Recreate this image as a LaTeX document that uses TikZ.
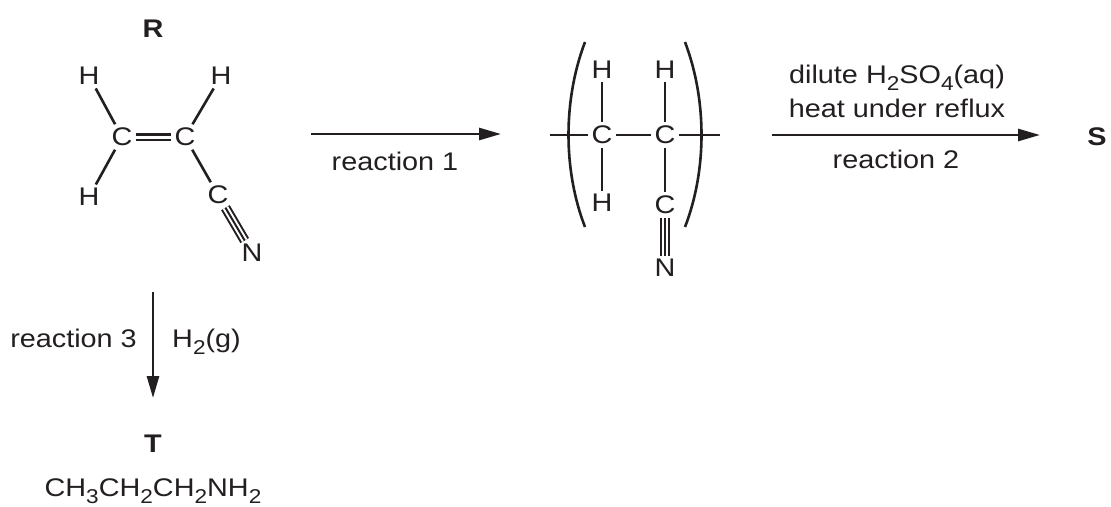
\documentclass[tikz,border=0pt]{standalone}
\usepackage{fontspec}
\setmainfont{Liberation Sans}[FakeStretch=1.13]
\usetikzlibrary{arrows.meta}
\definecolor{ink}{RGB}{35,31,32}
\newcommand{\chsub}[1]{\raisebox{-7pt}{\fontsize{20}{20}\selectfont #1}}
\tikzset{
    myatom/.style={inner sep=3.5pt,text=ink,font=\fontsize{25.5}{30}\selectfont},
    mytext/.style={inner sep=0pt,text=ink,font=\fontsize{25.5}{30}\selectfont},
    mytag/.style={inner sep=0pt,text=ink,font=\fontsize{25.5}{30}\selectfont\bfseries},
    mybond/.style={draw=ink,line width=2.6pt},
    mydouble/.style={draw=ink,line width=2.3pt,double=white,double distance=3pt},
    mytriple/.style={draw=ink,line width=2pt,double=white,double distance=6pt},
    myarrow/.style={draw=ink,line width=2.7pt,-{Triangle[length=22pt,width=12pt]}},
}

\begin{document}
\begin{tikzpicture}[x=1pt,y=-1pt]
    \useasboundingbox (0,0) rectangle (1111,506);
    % R
    \node[mytag] (labR) at (153,29) {R};
    \node[myatom] (rH1) at (89,76) {H};
    \node[myatom] (rH2) at (221,76) {H};
    \node[myatom] (rC1) at (122,137) {C};
    \node[myatom] (rC2) at (185,137) {C};
    \node[myatom] (rH3) at (89,197) {H};
    \node[myatom] (rC3) at (218,195) {C};
    \node[myatom] (rN) at (252,253) {N};
    \draw[mybond] (rH1) -- (rC1);
    \draw[mybond] (rH3) -- (rC1);
    \draw[mybond] (rH2) -- (rC2);
    \draw[mybond] (rC2) -- (rC3);
    \draw[mydouble] (rC1) -- (rC2);
    \draw[mytriple] (rC3) -- (rN);
    \draw[mybond,line width=2pt] (rC3) -- (rN);
    % polymer
    \node[myatom] (pC1) at (602,135) {C};
    \node[myatom] (pC2) at (665,135) {C};
    \node[myatom] (pH1) at (602,70) {H};
    \node[myatom] (pH2) at (665,70) {H};
    \node[myatom] (pH3) at (602,203) {H};
    \node[myatom] (pC3) at (665,205) {C};
    \node[myatom] (pN) at (665,268) {N};
    \coordinate (pL) at (550,135);
    \coordinate (pR) at (720,135);
    \draw[mybond] (pL) -- (pC1);
    \draw[mybond] (pC1) -- (pC2);
    \draw[mybond] (pC2) -- (pR);
    \draw[mybond] (pH1) -- (pC1);
    \draw[mybond] (pH3) -- (pC1);
    \draw[mybond] (pH2) -- (pC2);
    \draw[mybond] (pC2) -- (pC3);
    \draw[mytriple] (pC3) -- (pN);
    \draw[mybond,line width=2pt] (pC3) -- (pN);
    \draw[mybond] (585,42) .. controls (563,100) and (563,170) .. (585,227);
    \draw[mybond] (685,42) .. controls (707,100) and (707,170) .. (685,227);
    % reaction 1
    \coordinate (a1s) at (311,134);
    \coordinate (a1e) at (501,134);
    \draw[myarrow] (a1s) -- (a1e);
    \node[mytext,anchor=base] (lab1) at (395,170) {reaction 1};
    % reaction 2
    \coordinate (a2s) at (772,135);
    \coordinate (a2e) at (1040,135);
    \draw[myarrow] (a2s) -- (a2e);
    \node[mytext,anchor=base] (cond1) at (897,83) {dilute H\chsub{2}SO\chsub{4}(aq)};
    \node[mytext,anchor=base] (cond2) at (897,117) {heat under reflux};
    \node[mytext,anchor=base] (lab2) at (896,168) {reaction 2};
    \node[mytag] (labS) at (1097,137) {S};
    % reaction 3
    \coordinate (a3s) at (153,292);
    \coordinate (a3e) at (153,398);
    \draw[myarrow] (a3s) -- (a3e);
    \node[mytext,anchor=base east] (lab3) at (137,347) {reaction 3};
    \node[mytext,anchor=base west] (cond3) at (172,347) {H\chsub{2}(g)};
    \node[mytag] (labT) at (153,444) {T};
    \node[mytext,anchor=base] (formT) at (153,496) {CH\chsub{3}CH\chsub{2}CH\chsub{2}NH\chsub{2}};
\end{tikzpicture}
\end{document}
